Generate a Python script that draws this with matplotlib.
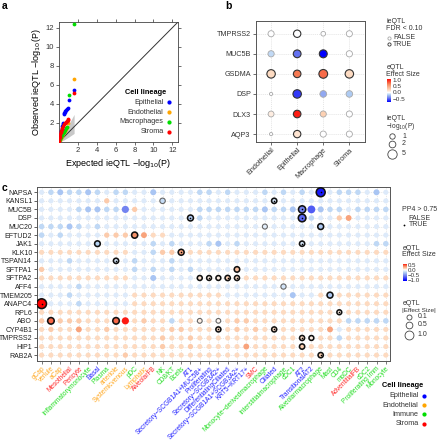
import matplotlib
matplotlib.use("Agg")
import matplotlib.pyplot as plt  # noqa: E402
import numpy as np  # noqa: E402
from matplotlib.colors import LinearSegmentedColormap, Normalize  # noqa: E402
from matplotlib.colorbar import ColorbarBase  # noqa: E402

plt.rcParams["font.family"] = ["Liberation Sans", "DejaVu Sans"]

W, H = 438, 440

# ---- panel a: QQ plot of ieQTL p-values per lineage ----
A_LINEAGES = ["Epithelial", "Endothelial", "Macrophages", "Stroma"]
A_COLOURS = ["#0000ff", "#ffa500", "#00dd00", "#ff0000"]
A_EXPECTED = [
    [0.02, 0.05, 0.1, 0.15, 0.2, 0.25, 0.3, 0.35, 0.4, 0.45, 0.5, 0.55, 0.6,
     0.65, 0.7, 0.8, 0.9, 1.08, 1.56],
    [0.05, 0.1, 0.2, 0.3, 0.4, 0.5, 0.6, 0.7, 0.8, 1.0, 1.56],
    [0.05, 0.1, 0.2, 0.3, 0.4, 0.5, 0.6, 0.7, 0.8, 1.04, 1.56],
    [0.02, 0.05, 0.1, 0.15, 0.2, 0.25, 0.3, 0.35, 0.4, 0.5, 0.6, 0.7, 0.8,
     0.9, 1.0, 1.55],
]
A_OBSERVED = [
    [0.05, 0.2, 0.4, 0.6, 0.9, 1.2, 1.4, 1.7, 1.9, 2.0, 2.9, 3.0, 3.2, 3.3,
     3.4, 3.5, 3.6, 4.4, 5.45],
    [0.1, 0.2, 0.4, 0.6, 0.8, 1.0, 1.2, 1.4, 1.6, 2.0, 6.6],
    [0.1, 0.3, 0.5, 0.7, 0.9, 1.1, 1.3, 1.5, 1.6, 4.9, 12.4],
    [0.1, 0.3, 0.5, 0.8, 1.0, 1.2, 1.4, 1.5, 1.7, 1.9, 2.0, 2.1, 2.2, 2.3,
     2.4, 5.15],
]
BAND_EXP = [0.0, 0.5, 1.0, 1.6]
BAND_LO = [0.0, 0.2, 0.5, 0.9]
BAND_HI = [0.3, 1.0, 1.8, 2.9]

# ---- panel b: ieQTL dot plot ----
B_GENES = ["TMPRSS2", "MUC5B", "GSDMA", "DSP", "DLX3", "AQP3"]
B_CELLS = ["Endothelial", "Epithelial", "Macrophage", "Stroma"]
B_EFFECT = [[0.0, 0.0, 0.0, 0.0],
            [-0.15, -0.45, -0.75, 0.0],
            [0.2, 0.7, 0.75, 0.2],
            [0.0, -0.6, -0.3, -0.2],
            [0.1, 1.0, 0.25, 0.0],
            [0.0, 0.15, 0.0, 0.0]]
B_LOGP = [[1.5, 2.6, 0.6, 1.5],
          [1.6, 3.0, 3.2, 1.6],
          [3.8, 2.8, 4.2, 3.8],
          [0.1, 3.8, 2.0, 1.9],
          [1.3, 2.8, 1.5, 1.5],
          [0.1, 2.6, 1.5, 1.5]]
B_FDR = [[0, 1, 0, 0],
         [0, 1, 1, 0],
         [1, 1, 1, 1],
         [0, 1, 0, 0],
         [0, 1, 0, 0],
         [0, 1, 0, 0]]

# ---- panel c: colocalised eQTL across cell types ----
C_GENES = ["NAPSA", "KANSL1", "MUC5B", "DSP", "MUC20", "EFTUD2", "JAK1",
           "KLK10", "TSPAN14", "SFTPA1", "SFTPA2", "AFF4", "TMEM205",
           "ANAPC4", "RPL6", "ABO", "CYP4B1", "TMPRSS2", "HIP1", "RAB2A"]
C_CELLS = ["gCap", "venule", "aCap", "Mesothelial", "Pericyte",
           "Inflammatorymonocyte", "Basal", "Plasma", "arteriole",
           "Systemicvenous", "pDC", "Lymphatic", "AlveolarFB", "NK", "CD8/KT",
           "Bcells", "AT1", "Secretory−SCGB1A1+MUC5B+", "Proliferating",
           "Secretory−SCGB3A2+", "DifferentiatingCiliated",
           "Secretory−SCGB1A1+SCGB3A2+", "KRT5−KRT17+", "SMC",
           "Monocyte−derivedmacrophage", "Ciliated", "Interstitialmacrophage",
           "cDC1", "AT2", "TransitionalAT2", "Alveolarmacrophage", "Mast",
           "CD4", "moDC", "AdventitialFB", "cDC2", "Proliferating Imm",
           "Monocyte"]
C_LINEAGE = ["Endothelial", "Endothelial", "Endothelial", "Stroma", "Stroma",
             "Immune", "Epithelial", "Immune", "Endothelial", "Endothelial",
             "Immune", "Endothelial", "Stroma", "Immune", "Immune", "Immune",
             "Epithelial", "Epithelial", "Epithelial", "Epithelial",
             "Epithelial", "Epithelial", "Epithelial", "Stroma", "Immune",
             "Epithelial", "Immune", "Immune", "Epithelial", "Epithelial",
             "Immune", "Immune", "Immune", "Immune", "Stroma", "Immune",
             "Immune", "Immune"]
# effect-size levels, one character per cell type
C_LEVELS = {".": -0.12, ",": 0.12, "b": -0.22, "c": -0.32, "B": -0.4,
            "M": -0.6, "N": -0.75, "D": -1.0, "o": 0.17, "O": 0.3, "R": 0.6}
C_ROWS = [
    ".bcbbcb.bb" "..c....bb." "b...b.b.b." "D.bbb.c.",
    ".......o.." ".........." ".........." "........",
    "....bccbbM" "o......bbb" "bbbbcbbcBN" "cbb.bbbb",
    ".........." ".......b.." ".........b" "..oO....",
    "bbbcb.b..." ".........." ".........." "........",
    "b.b....ooo" ".O,,......" ".........." "........",
    ".........." "..b.b...bc" ".b........" "......bb",
    ",,,,,,,,,," "..boo,,,,," ",,,,,,,,,," ",,,,,,,,",
    "...b......" "b...b....." ".........." "........",
    "o........." "b.b.b.b..." ".,........" "........",
    ",,,,,,,,,," "..c......." ",,,,,,,,,," ",,,,,,,,",
    "....b....." ".........." ".........." "........",
    "...b......" ",,,,,,,,,," ".......c.." ",,,,,,,,",
    "....b....." ",,,,,,,,,," ",,,,,,,,,," ",,,,,,,,",
    ",,,,,,,,,," ",,,,,,,,,," ",,,,,,,,,," ",,,,,,,,",
    "o,ooo,,,,R" ",o,,b,,,,," ",oo,,,,,,," ",,,bbbbb",
    ",o,,O,,o,," ",,,,oo,,,," ",o,o,,,,,," ",O.,,,,,",
    ",,,,,,,,,," ",,,o,,o,,," ",,,,,,,,,," ",,b,,,,,",
    ",,,,,,,,,," ",,,o,,o,,," ",,O,,,,,,," ",,,,,,,,",
    ",,,,,,,,,o" ",,,,,,,,,," ",,,,,,,,,," ",,,,,,,,",
]
# colocalised hits drawn with an outline
HL_GENE = ["NAPSA", "KANSL1", "KANSL1", "MUC5B", "DSP", "DSP", "MUC20",
           "MUC20", "EFTUD2", "JAK1", "JAK1", "KLK10", "TSPAN14", "SFTPA1",
           "SFTPA2", "SFTPA2", "SFTPA2", "SFTPA2", "SFTPA2", "AFF4",
           "TMEM205", "ANAPC4", "RPL6", "ABO", "ABO", "ABO", "ABO", "CYP4B1",
           "CYP4B1", "TMPRSS2", "TMPRSS2", "HIP1", "RAB2A"]
HL_CELL = ["Alveolarmacrophage", "NK", "Ciliated", "AT2", "AT1", "AT2",
           "Monocyte−derivedmacrophage", "Alveolarmacrophage", "pDC", "Basal",
           "AT2", "Bcells", "arteriole", "Secretory−SCGB1A1+SCGB3A2+",
           "Secretory−SCGB1A1+MUC5B+", "Proliferating", "Secretory−SCGB3A2+",
           "DifferentiatingCiliated", "Secretory−SCGB1A1+SCGB3A2+",
           "Interstitialmacrophage", "Mast", "gCap", "CD4", "venule",
           "arteriole", "Secretory−SCGB1A1+MUC5B+", "Secretory−SCGB3A2+",
           "Secretory−SCGB3A2+", "Ciliated", "AT2", "TransitionalAT2", "AT2",
           "Alveolarmacrophage"]
HL_EFFECT = [-1.0, -0.2, -0.15, -0.6, -0.3, -0.7, -0.1, -0.3, 0.35, -0.25,
             -0.15, 0.3, -0.15, 0.2, 0.08, 0.05, 0.05, 0.15, 0.1, -0.15,
             -0.3, 1.2, 0.05, 0.45, 0.45, 0.05, 0.02, 0.1, 0.1, 0.1, 0.05,
             0.15, 0.15]
HL_PP4 = [1, 0, 1, 1, 1, 1, 0, 0, 0, 0, 1, 1, 1, 0, 0, 1, 0, 1, 1, 0, 0, 1,
          1, 0, 0, 0, 0, 1, 1, 1, 0, 0, 1]
HL_STRONG = [1, 0, 1, 1, 1, 1, 0, 1, 1, 1, 1, 1, 1, 1, 1, 1, 1, 1, 1, 0, 1,
             1, 1, 1, 1, 0, 0, 1, 1, 1, 1, 1, 1]

LINEAGE_COLOURS = {"Epithelial": "#0000ff", "Endothelial": "#ffa500",
                   "Immune": "#00dd00", "Stroma": "#ff0000"}
LABEL_COLOURS = {"Epithelial": "#2222ff", "Endothelial": "#ffa820",
                 "Immune": "#22dd22", "Stroma": "#ff2a2a"}


def px_rect(x0, y0, x1, y1):
    return [x0 / W, 1 - y1 / H, (x1 - x0) / W, (y1 - y0) / H]


def area(d_px):
    """Marker area (pt^2) for a diameter in pixels at 100 dpi."""
    return (np.asarray(d_px) * 0.72) ** 2


def c_diam(e):
    return 4.6 + 4.3 * np.abs(e)


def diverging(vmin, vmax):
    f0 = -vmin / (vmax - vmin)
    stops = [(0.0, "#0000ff"), (f0 * 0.44, "#6f7ff0"), (f0 * 0.76, "#b3d1f3"),
             (f0, "#ffffff"), (f0 + (1 - f0) * 0.22, "#fdd3b5"),
             (f0 + (1 - f0) * 0.6, "#f5875c"), (1.0, "#ff0000")]
    return LinearSegmentedColormap.from_list("bwr2", stops), Normalize(vmin, vmax)


fig = plt.figure(figsize=(W / 100, H / 100), dpi=100)
lax = fig.add_axes([0, 0, 1, 1], zorder=10)
lax.set_xlim(0, W)
lax.set_ylim(H, 0)
lax.axis("off")
lax.patch.set_alpha(0)

for lab, x, y in (("a", 2, 6), ("b", 225, 6), ("c", 2, 188)):
    lax.text(x, y, lab, fontsize=7.5, fontweight="bold", va="center")

# ---------------- panel a ----------------
ax = fig.add_axes(px_rect(59, 22, 178, 142))
lim = 12.6
ax.fill_between(BAND_EXP, BAND_LO, BAND_HI, color="#c8c8c8", lw=0, zorder=1)
ax.plot([0, lim], [0, lim], color="#333333", lw=0.7, zorder=2)
for ex, ob, col in zip(A_EXPECTED, A_OBSERVED, A_COLOURS):
    ax.scatter(ex, ob, s=area(3.8), color=col, lw=0, zorder=3)
ax.set_xlim(0, lim)
ax.set_ylim(0, lim)
ax.set_xticks([2, 4, 6, 8, 10, 12])
ax.set_yticks([2, 4, 6, 8, 10, 12])
ax.tick_params(labelsize=5.5, length=2, width=0.5, pad=1.5, direction="out",
               top=True, right=True, colors="#333333")
for sp in ax.spines.values():
    sp.set_linewidth(0.6)
    sp.set_color("#444444")
ax.set_xlabel("Expected ieQTL −log$_{10}$(P)", fontsize=6.5, labelpad=2)
ax.set_ylabel("Observed ieQTL −log$_{10}$(P)", fontsize=6.5, labelpad=2)

lax.text(146, 93, "Cell lineage", fontsize=5.3, fontweight="bold",
         ha="center", va="center")
for i, (lab, col) in enumerate(zip(A_LINEAGES, A_COLOURS)):
    y = 102.3 + i * 9.8
    lax.text(163.5, y, lab, fontsize=5.2, ha="right", va="center",
             color="#333333")
    lax.scatter([168.5], [y], s=area(4.2), color=col, lw=0)

# ---------------- panel b ----------------
axb = fig.add_axes(px_rect(255.7, 20.7, 365, 141.7))
cmap_b, norm_b = diverging(-0.75, 1.1)
bx, by = np.meshgrid(np.arange(len(B_CELLS)), np.arange(len(B_GENES)))
eff_b = np.array(B_EFFECT).ravel()
logp_b = np.array(B_LOGP).ravel()
fdr_b = np.array(B_FDR).ravel().astype(bool)
axb.scatter(bx.ravel(), by.ravel(), s=area(2.2 + 3.2 * np.sqrt(logp_b)),
            c=eff_b, cmap=cmap_b, norm=norm_b,
            edgecolors=np.where(fdr_b, "#333333", "#a8a8a8"),
            linewidths=np.where(fdr_b, 0.8, 0.6), zorder=3)
axb.set_xlim(-0.59, 3.6)
axb.set_ylim(5.38, -0.65)
axb.set_xticks(range(len(B_CELLS)))
axb.set_xticklabels(B_CELLS, rotation=45, ha="right", rotation_mode="anchor")
axb.set_yticks(range(len(B_GENES)))
axb.set_yticklabels(B_GENES)
axb.tick_params(labelsize=5.2, length=2, width=0.5, pad=1.5, colors="#333333")
axb.grid(True, color="#dcdcdc", lw=0.5, ls=(0, (1.5, 1.5)))
axb.set_axisbelow(True)
for sp in axb.spines.values():
    sp.set_linewidth(0.7)
    sp.set_color("#555555")

lax.text(386.5, 21.7, "ieQTL", fontsize=5, va="center", color="#333333")
lax.text(386.5, 29, "FDR < 0.10", fontsize=5, va="center", color="#333333")
for y, lab, ec in ((37.7, "FALSE", "#a8a8a8"), (44.3, "TRUE", "#333333")):
    lax.scatter([389], [y], s=area(3.2), facecolor="white", edgecolor=ec, lw=0.6)
    lax.text(393, y, lab, fontsize=5, va="center", color="#333333")
lax.text(386.5, 67.7, "eQTL", fontsize=5, va="center", color="#333333")
lax.text(386.5, 74.5, "Effect Size", fontsize=5, va="center", color="#333333")
cbb = fig.add_axes(px_rect(386.7, 78.5, 391, 102))
cb = ColorbarBase(cbb, cmap=cmap_b, norm=norm_b, orientation="vertical")
cb.set_ticks([-0.5, 0.0, 0.5, 1.0])
cb.ax.tick_params(labelsize=4.6, length=0, pad=1, colors="#333333")
cb.outline.set_visible(False)
lax.text(386.5, 118.5, "ieQTL", fontsize=5, va="center", color="#333333")
lax.text(386.5, 127, "−log$_{10}$(P)", fontsize=4.8, va="center",
         color="#333333")
for y, p in ((136, 1), (143.7, 2), (153.7, 5)):
    lax.scatter([392.3], [y], s=area(2.2 + 3.2 * np.sqrt(p)),
                facecolor="white", edgecolor="#444444", lw=0.6)
    lax.text(402, y, str(p), fontsize=5, va="center", color="#333333")

# ---------------- panel c ----------------
axc = fig.add_axes(px_rect(36.7, 186.7, 390, 360.7))
cmap_c, norm_c = diverging(-1.1, 0.65)
hl = set(zip(HL_GENE, HL_CELL))
xs, ys, es = [], [], []
for r, (gene, row) in enumerate(zip(C_GENES, C_ROWS)):
    for k, ch in enumerate(row):
        if (gene, C_CELLS[k]) in hl:
            continue
        xs.append(k)
        ys.append(r)
        es.append(C_LEVELS[ch])
es = np.array(es)
axc.scatter(xs, ys, s=area(c_diam(es)), c=es, cmap=cmap_c,
            norm=norm_c, lw=0, zorder=3)

hx = [C_CELLS.index(c) for c in HL_CELL]
hy = [C_GENES.index(g) for g in HL_GENE]
he = np.array(HL_EFFECT)
strong = np.array(HL_STRONG).astype(bool)
axc.scatter(hx, hy, s=area(c_diam(he)), c=he, cmap=cmap_c,
            norm=norm_c, edgecolors=np.where(strong, "#111111", "#666666"),
            linewidths=np.where(strong, 1.15, 0.8), zorder=4)
pp4 = np.array(HL_PP4).astype(bool)
axc.scatter(np.array(hx)[pp4], np.array(hy)[pp4], s=area(1.6), color="black",
            lw=0, zorder=5)

axc.set_xlim(-0.53, len(C_CELLS) - 0.55)
axc.set_ylim(len(C_GENES) - 0.35, -0.65)
axc.set_xticks(range(len(C_CELLS)))
axc.set_xticklabels(C_CELLS, rotation=45, ha="right", rotation_mode="anchor",
                    fontsize=4.7)
for t, lin in zip(axc.get_xticklabels(), C_LINEAGE):
    t.set_color(LABEL_COLOURS[lin])
axc.set_yticks(range(len(C_GENES)))
axc.set_yticklabels(C_GENES, fontsize=5)
axc.tick_params(length=2, width=0.5, pad=1.2, color="#444444")
axc.tick_params(axis="y", colors="#222222")
axc.grid(True, color="#dcdcdc", lw=0.5, ls=(0, (1.5, 1.5)))
axc.set_axisbelow(True)
for sp in axc.spines.values():
    sp.set_linewidth(0.7)
    sp.set_color("#555555")

lax.text(402.5, 209.3, "PP4 > 0.75", fontsize=5, va="center", color="#333333")
lax.text(408.5, 219, "FALSE", fontsize=5, va="center", color="#333333")
lax.text(408.5, 225, "TRUE", fontsize=5, va="center", color="#333333")
lax.scatter([404.3], [225], s=area(1.8), color="black", lw=0)
lax.text(402.5, 248.3, "eQTL", fontsize=5, va="center", color="#333333")
lax.text(402.5, 255, "Effect Size", fontsize=5, va="center", color="#333333")
cbc = fig.add_axes(px_rect(402.7, 263.5, 406.7, 280.5))
cb2 = ColorbarBase(cbc, cmap=cmap_c, norm=norm_c, orientation="vertical")
cb2.set_ticks([-1.0, -0.5, 0.0, 0.5])
cb2.ax.tick_params(labelsize=4.4, length=0, pad=1, colors="#333333")
cb2.outline.set_visible(False)
lax.text(402.5, 303.3, "eQTL", fontsize=5, va="center", color="#333333")
lax.text(402.5, 310.5, "|Effect Size|", fontsize=4.6, va="center",
         color="#333333")
for y, e in ((316.7, 0.1), (325, 0.5), (335, 1.0)):
    lax.scatter([409.3], [y], s=area(c_diam(e)), facecolor="white",
                edgecolor="#444444", lw=0.6)
    lax.text(417.5, y, f"{e:.1f}", fontsize=5, va="center", color="#333333")

lax.text(382.5, 385.7, "Cell lineage", fontsize=5.3, fontweight="bold",
         va="center")
for i, lin in enumerate(["Epithelial", "Endothelial", "Immune", "Stroma"]):
    y = 395.7 + i * 9.4
    lax.text(418.5, y, lin, fontsize=5.2, ha="right", va="center",
             color="#333333")
    lax.scatter([424], [y], s=area(4.2), color=LINEAGE_COLOURS[lin], lw=0)

fig.savefig("out.png", dpi=100)
plt.close(fig)
